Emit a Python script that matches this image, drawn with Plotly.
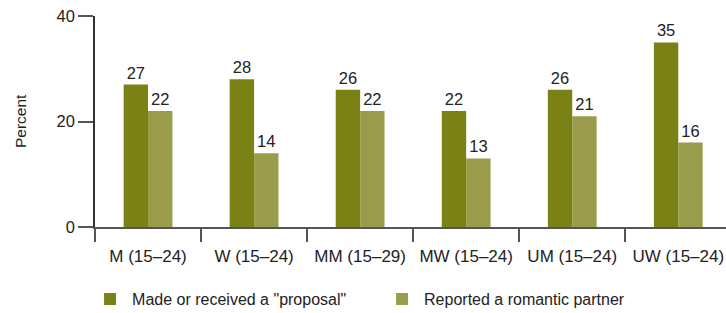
import plotly.graph_objects as go

categories = ["M (15\u201324)", "W (15\u201324)", "MM (15\u201329)", "MW (15\u201324)", "UM (15\u201324)", "UW (15\u201324)"]
proposal = [27, 28, 26, 22, 26, 35]
partner = [22, 14, 22, 13, 21, 16]
series_names = ['Made or received a "proposal"', "Reported a romantic partner"]
colors = ["#7a8216", "#999c4a"]
y_ticks = [0, 20, 40]

font_family = "Liberation Sans, Arial, sans-serif"

fig = go.Figure()
for name, vals, col in zip(series_names, [proposal, partner], colors):
    fig.add_trace(go.Bar(
        x=categories, y=vals, name=name, marker_color=col, marker_line_width=0,
        text=[str(v) for v in vals], textposition="outside",
        textfont=dict(size=16.5, color="#222", family=font_family),
        cliponaxis=False,
    ))

fig.update_layout(
    width=726, height=313,
    margin=dict(l=95, r=0, t=16, b=86, autoexpand=False),
    barmode="group", bargap=0.54, bargroupgap=0,
    plot_bgcolor="white", paper_bgcolor="white",
    font=dict(family=font_family, size=15, color="#222"),
    showlegend=True,
    legend=dict(orientation="h", x=-0.011, y=-0.261, xanchor="left", yanchor="top",
                font=dict(size=16, color="#222"), entrywidth=243, entrywidthmode="pixels",
                itemwidth=34, itemclick=False),
    annotations=[dict(text="Percent", x=(20 - 95) / 631, y=(227 - 121) / 211,
                      xref="paper", yref="paper", xanchor="center", yanchor="middle",
                      showarrow=False, textangle=-90, font=dict(size=15.5, color="#222"))],
)
fig.update_xaxes(
    type="category", range=[-0.5, 5.45], automargin=False,
    showline=True, linecolor="#555", linewidth=2,
    ticks="outside", tickson="boundaries", ticklen=13, tickcolor="#555", tickwidth=2,
    showgrid=False, tickfont=dict(size=17, color="#222"), ticklabelstandoff=13,
    tickangle=0,
)
fig.update_yaxes(
    range=[0, 40], tickvals=y_ticks, ticktext=[str(t) for t in y_ticks], automargin=False,
    showline=True, linecolor="#333", linewidth=1.5,
    ticks="outside", ticklen=15, tickcolor="#555", tickwidth=2,
    showgrid=False, zeroline=False, tickfont=dict(size=16.5, color="#222"),
)

fig.write_html("out.html", config={"displayModeBar": False},
               post_script="document.body.style.margin='0';document.body.style.overflow='hidden';")
